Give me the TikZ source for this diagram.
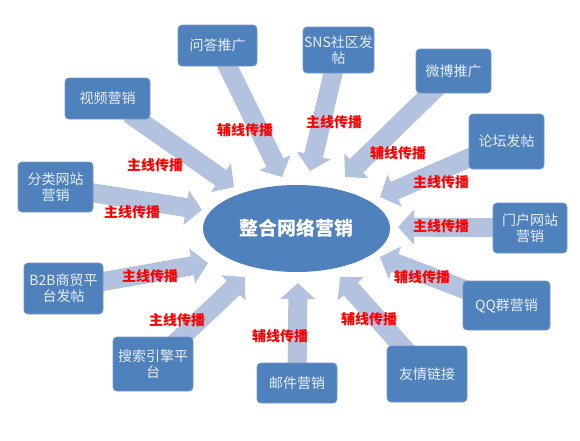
\documentclass[tikz,border=0pt]{standalone}
\usepackage{fontspec}
\newfontfamily\cjk{Noto Sans CJK SC}
\usetikzlibrary{arrows.meta,shapes.geometric}
\pgfdeclarelayer{bg}
\pgfsetlayers{bg,main}
\definecolor{boxblue}{HTML}{4F81BD}
\definecolor{boxedge}{HTML}{7397C9}
\definecolor{boxtext}{HTML}{E8EEF7}
\definecolor{arrowblue}{HTML}{B3C3DF}
\tikzset{
  mbox/.style={rounded corners=4pt, fill=boxblue, draw=boxedge, line width=0.8pt,
    inner sep=0pt, align=center, text=boxtext,
    font=\cjk\fontsize{14}{16}\selectfont},
  centre/.style={ellipse, fill=boxblue, draw=none, minimum width=187pt, minimum height=87pt,
    inner sep=0pt, text=white, font=\cjk\bfseries\fontsize{19}{21}\selectfont},
  blockarrow/.style={draw=arrowblue, line width=19pt,
    -{Triangle[width=34pt,length=16pt]}, shorten <=-10pt},
  lbl/.style={text=red, font=\cjk\bfseries\fontsize{14}{15}\selectfont, inner sep=0pt}
}
\begin{document}
\begin{tikzpicture}[x=1pt,y=-1pt]
\useasboundingbox (0,0) rectangle (580,440);

\node[centre] (c) at (296.5,228.5) {整合网络营销};

\node[mbox, minimum width=79pt, minimum height=41pt] (qa) at (217.5,45.5) {问答推广};
\node[mbox, minimum width=85pt, minimum height=41pt] (sp) at (107.5,98.5) {视频营销};
\node[mbox, minimum width=75pt, minimum height=50pt] (fl) at (55.5,187) {分类网站\\营销};
\node[mbox, minimum width=71pt, minimum height=46pt] (sns) at (338.5,50) {SNS社区发\\帖};
\node[mbox, minimum width=75pt, minimum height=44pt] (wb) at (453.5,71) {微博推广};
\node[mbox, minimum width=75pt, minimum height=55pt] (lt) at (506.5,141.5) {论坛发帖};
\node[mbox, minimum width=74pt, minimum height=50pt] (mh) at (530,228) {门户网站\\营销};
\node[mbox, minimum width=87pt, minimum height=49pt] (qq) at (506.5,305.5) {QQ群营销};
\node[mbox, minimum width=80pt, minimum height=56pt] (yq) at (427,374) {友情链接};
\node[mbox, minimum width=80pt, minimum height=40pt] (yj) at (297,383) {邮件营销};
\node[mbox, minimum width=80pt, minimum height=54pt] (ss) at (153,364) {搜索引擎平\\台};
\node[mbox, minimum width=79pt, minimum height=51pt] (b2b) at (63.5,288.5) {B2B商贸平\\台发帖};

\coordinate (t-qa) at (282,177);
\coordinate (t-sp) at (234,187);
\coordinate (t-fl) at (202,210);
\coordinate (t-sns) at (310,171);
\coordinate (t-wb) at (345,177);
\coordinate (t-lt) at (380,197);
\coordinate (t-mh) at (398,227);
\coordinate (t-qq) at (380,257);
\coordinate (t-yq) at (340,277);
\coordinate (t-yj) at (298,283);
\coordinate (t-ss) at (245,277);
\coordinate (t-b2b) at (208,263);

\begin{pgfonlayer}{bg}
\fill[white] (0,0) rectangle (580,440);
\foreach \b in {qa,sp,fl,sns,wb,lt,mh,qq,yq,yj,ss,b2b}
  \draw[blockarrow] (\b) -- (t-\b);
\end{pgfonlayer}

\node[lbl] (l-qa) at (245,130) {辅线传播};
\node[lbl] (l-sp) at (155,165) {主线传播};
\node[lbl] (l-fl) at (132,212) {主线传播};
\node[lbl] (l-sns) at (334,122) {主线传播};
\node[lbl] (l-wb) at (398,153) {辅线传播};
\node[lbl] (l-lt) at (441,182) {主线传播};
\node[lbl] (l-mh) at (441,226) {主线传播};
\node[lbl] (l-qq) at (422,277) {辅线传播};
\node[lbl] (l-yq) at (369,319) {辅线传播};
\node[lbl] (l-yj) at (280,336) {辅线传播};
\node[lbl] (l-ss) at (177,320) {主线传播};
\node[lbl] (l-b2b) at (150,276) {主线传播};
\end{tikzpicture}
\end{document}
